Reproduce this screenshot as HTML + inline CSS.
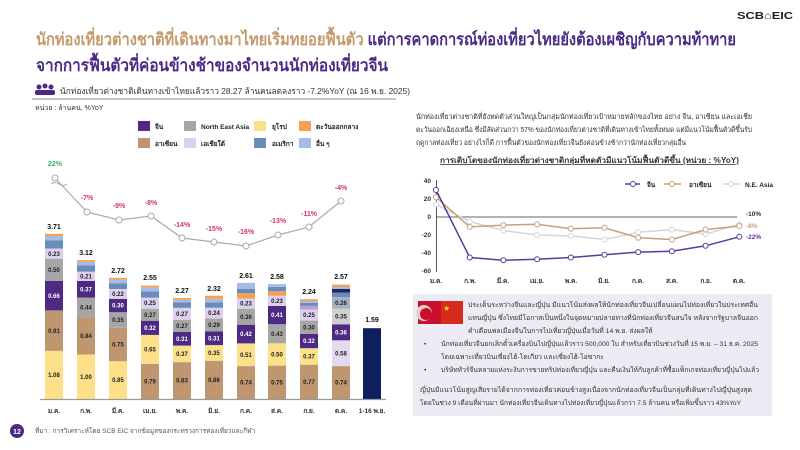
<!DOCTYPE html>
<html><head><meta charset="utf-8"><style>
html,body{margin:0;padding:0;background:#fff;width:800px;height:450px;overflow:hidden}
svg{display:block;font-family:"Liberation Sans","DejaVu Sans",sans-serif}
.v{font-size:6px;font-weight:bold;text-anchor:middle;fill:#222}
.w{font-size:6px;font-weight:bold;text-anchor:middle;fill:#fff}
.t{font-size:7px;font-weight:bold;text-anchor:middle;fill:#111}
.p{font-size:7px;font-weight:bold;text-anchor:middle;fill:#d6336c}
.m{font-size:6.5px;font-weight:bold;text-anchor:middle;fill:#333}
</style></head><body>
<svg width="800" height="450" viewBox="0 0 800 450">
<!-- header -->
<text x="36" y="45" font-size="17" font-weight="bold" textLength="700" lengthAdjust="spacingAndGlyphs"><tspan fill="#c4996b">นักท่องเที่ยวต่างชาติที่เดินทางมาไทยเริ่มทยอยฟื้นตัว </tspan><tspan fill="#4b2a85">แต่การคาดการณ์ท่องเที่ยวไทยยังต้องเผชิญกับความท้าทาย</tspan></text>
<text x="36" y="71" font-size="17" font-weight="bold" fill="#4b2a85" textLength="352" lengthAdjust="spacingAndGlyphs">จากการฟื้นตัวที่ค่อนข้างช้าของจำนวนนักท่องเที่ยวจีน</text>
<text x="737" y="19" font-size="10.5" font-weight="bold" fill="#222" textLength="56" lengthAdjust="spacingAndGlyphs">SCB⌂EIC</text>
<g fill="#4b2a85"><circle cx="39" cy="87" r="2.5"/><circle cx="45" cy="86" r="2.5"/><circle cx="51" cy="87" r="2.5"/><rect x="35" y="90" width="20" height="5" rx="2"/></g>
<text x="60" y="94" font-size="8.5" fill="#333" textLength="350" lengthAdjust="spacingAndGlyphs">นักท่องเที่ยวต่างชาติเดินทางเข้าไทยแล้วราว 28.27 ล้านคนลดลงราว -7.2%YoY (ณ 16 พ.ย. 2025)</text>
<line x1="32" y1="99" x2="396" y2="99" stroke="#888" stroke-width="1"/>
<text x="35" y="110" font-size="7" fill="#333">หน่วย : ล้านคน, %YoY</text>
<!-- legend -->
<g font-size="6.5" font-weight="bold" fill="#222">
<rect x="138" y="121" width="12" height="10" fill="#4e2a84"/><text x="155" y="129">จีน</text>
<rect x="184" y="121" width="12" height="10" fill="#a6a6a6"/><text x="201" y="129">North East Asia</text>
<rect x="254" y="121" width="12" height="10" fill="#fde08a"/><text x="272" y="129">ยุโรป</text>
<rect x="299" y="121" width="12" height="10" fill="#f8a050"/><text x="316" y="129">ตะวันออกกลาง</text>
<rect x="138" y="138" width="12" height="10" fill="#c09670"/><text x="155" y="146">อาเซียน</text>
<rect x="184" y="138" width="12" height="10" fill="#dcd0ee"/><text x="201" y="146">เอเชียใต้</text>
<rect x="254" y="138" width="12" height="10" fill="#6a8bbd"/><text x="272" y="146">อเมริกา</text>
<rect x="299" y="138" width="12" height="10" fill="#a4bde6"/><text x="316" y="146">อื่น ๆ</text>
</g>
<!-- bars -->
<g>
<rect x="45" y="350.9" width="18" height="48.1" fill="#fde08a"/><rect x="45" y="310.4" width="18" height="40.5" fill="#c09670"/><rect x="45" y="281" width="18" height="29.4" fill="#4e2a84"/><rect x="45" y="258.7" width="18" height="22.3" fill="#a6a6a6"/><rect x="45" y="248.5" width="18" height="10.2" fill="#dcd0ee"/><rect x="45" y="240.5" width="18" height="8" fill="#6a8bbd"/><rect x="45" y="236" width="18" height="4.5" fill="#a4bde6"/><rect x="45" y="233.8" width="18" height="2.2" fill="#f8a050"/>
<text class="v" x="54" y="377">1.08</text><text class="v" x="54" y="333">0.91</text><text class="w" x="54" y="298">0.66</text><text class="v" x="54" y="272">0.50</text><text class="v" x="54" y="256">0.23</text><text class="t" x="54" y="229">3.71</text>
<rect x="77" y="354.5" width="18" height="44.5" fill="#fde08a"/><rect x="77" y="317.1" width="18" height="37.4" fill="#c09670"/><rect x="77" y="297.5" width="18" height="19.6" fill="#a6a6a6"/><rect x="77" y="281" width="18" height="16.5" fill="#4e2a84"/><rect x="77" y="271.7" width="18" height="9.3" fill="#dcd0ee"/><rect x="77" y="265.5" width="18" height="6.2" fill="#6a8bbd"/><rect x="77" y="261.9" width="18" height="3.6" fill="#a4bde6"/><rect x="77" y="260.1" width="18" height="1.8" fill="#f8a050"/>
<text class="v" x="86" y="379">1.00</text><text class="v" x="86" y="338">0.84</text><text class="v" x="86" y="309.5">0.44</text><text class="w" x="86" y="291.5">0.37</text><text class="v" x="86" y="278.5">0.21</text><text class="t" x="86" y="255">3.12</text>
<rect x="109" y="361.2" width="18" height="37.8" fill="#fde08a"/><rect x="109" y="327.8" width="18" height="33.4" fill="#c09670"/><rect x="109" y="312.2" width="18" height="15.6" fill="#a6a6a6"/><rect x="109" y="298.8" width="18" height="13.4" fill="#4e2a84"/><rect x="109" y="289" width="18" height="9.8" fill="#dcd0ee"/><rect x="109" y="283.2" width="18" height="5.8" fill="#6a8bbd"/><rect x="109" y="279.6" width="18" height="3.6" fill="#a4bde6"/><rect x="109" y="277.8" width="18" height="1.8" fill="#f8a050"/>
<text class="v" x="118" y="382">0.85</text><text class="v" x="118" y="346.5">0.75</text><text class="v" x="118" y="322">0.35</text><text class="w" x="118" y="307.5">0.30</text><text class="v" x="118" y="296">0.22</text><text class="t" x="118" y="273">2.72</text>
<rect x="141" y="363.8" width="18" height="35.2" fill="#c09670"/><rect x="141" y="334.9" width="18" height="28.9" fill="#fde08a"/><rect x="141" y="320.7" width="18" height="14.2" fill="#4e2a84"/><rect x="141" y="308.7" width="18" height="12" fill="#a6a6a6"/><rect x="141" y="297.6" width="18" height="11.1" fill="#dcd0ee"/><rect x="141" y="291.4" width="18" height="6.2" fill="#6a8bbd"/><rect x="141" y="287.4" width="18" height="4" fill="#a4bde6"/><rect x="141" y="285.6" width="18" height="1.8" fill="#f8a050"/>
<text class="v" x="150" y="383.5">0.79</text><text class="v" x="150" y="351.5">0.65</text><text class="w" x="150" y="330">0.32</text><text class="v" x="150" y="317">0.27</text><text class="v" x="150" y="305">0.25</text><text class="t" x="150" y="280">2.55</text>
<rect x="173" y="362.1" width="18" height="36.9" fill="#c09670"/><rect x="173" y="345.6" width="18" height="16.5" fill="#fde08a"/><rect x="173" y="331.8" width="18" height="13.8" fill="#4e2a84"/><rect x="173" y="319.8" width="18" height="12" fill="#a6a6a6"/><rect x="173" y="307.8" width="18" height="12" fill="#dcd0ee"/><rect x="173" y="302.5" width="18" height="5.3" fill="#6a8bbd"/><rect x="173" y="299.8" width="18" height="2.7" fill="#a4bde6"/><rect x="173" y="298" width="18" height="1.8" fill="#f8a050"/>
<text class="v" x="182" y="382.5">0.83</text><text class="v" x="182" y="356">0.37</text><text class="w" x="182" y="341">0.31</text><text class="v" x="182" y="328">0.27</text><text class="v" x="182" y="316">0.27</text><text class="t" x="182" y="293">2.27</text>
<rect x="205" y="360.7" width="18" height="38.3" fill="#c09670"/><rect x="205" y="345.1" width="18" height="15.6" fill="#fde08a"/><rect x="205" y="331.3" width="18" height="13.8" fill="#4e2a84"/><rect x="205" y="318.4" width="18" height="12.9" fill="#a6a6a6"/><rect x="205" y="307.7" width="18" height="10.7" fill="#dcd0ee"/><rect x="205" y="302.4" width="18" height="5.3" fill="#6a8bbd"/><rect x="205" y="298.8" width="18" height="3.6" fill="#a4bde6"/><rect x="205" y="295.7" width="18" height="3.1" fill="#f8a050"/>
<text class="v" x="214" y="382">0.86</text><text class="v" x="214" y="355">0.35</text><text class="w" x="214" y="340.5">0.31</text><text class="v" x="214" y="327">0.29</text><text class="v" x="214" y="315">0.24</text><text class="t" x="214" y="291">2.32</text>
<rect x="237" y="366.1" width="18" height="32.9" fill="#c09670"/><rect x="237" y="343.4" width="18" height="22.7" fill="#fde08a"/><rect x="237" y="324.7" width="18" height="18.7" fill="#4e2a84"/><rect x="237" y="308.7" width="18" height="16" fill="#a6a6a6"/><rect x="237" y="298.5" width="18" height="10.2" fill="#dcd0ee"/><rect x="237" y="293.2" width="18" height="5.3" fill="#f8a050"/><rect x="237" y="288.7" width="18" height="4.5" fill="#6a8bbd"/><rect x="237" y="282.9" width="18" height="5.8" fill="#a4bde6"/>
<text class="v" x="246" y="384.5">0.74</text><text class="v" x="246" y="357">0.51</text><text class="w" x="246" y="336">0.42</text><text class="v" x="246" y="319">0.36</text><text class="v" x="246" y="305.5">0.23</text><text class="t" x="246" y="278">2.61</text>
<rect x="268" y="365.6" width="18" height="33.4" fill="#c09670"/><rect x="268" y="343.3" width="18" height="22.3" fill="#fde08a"/><rect x="268" y="324.2" width="18" height="19.1" fill="#a6a6a6"/><rect x="268" y="306" width="18" height="18.2" fill="#4e2a84"/><rect x="268" y="295.8" width="18" height="10.2" fill="#dcd0ee"/><rect x="268" y="291.3" width="18" height="4.5" fill="#f8a050"/><rect x="268" y="286.8" width="18" height="4.5" fill="#6a8bbd"/><rect x="268" y="284.1" width="18" height="2.7" fill="#a4bde6"/>
<text class="v" x="277" y="384.5">0.75</text><text class="v" x="277" y="356.5">0.50</text><text class="v" x="277" y="336">0.43</text><text class="w" x="277" y="317">0.41</text><text class="v" x="277" y="303">0.23</text><text class="t" x="277" y="279">2.58</text>
<rect x="300" y="364.7" width="18" height="34.3" fill="#c09670"/><rect x="300" y="348.2" width="18" height="16.5" fill="#fde08a"/><rect x="300" y="334" width="18" height="14.2" fill="#4e2a84"/><rect x="300" y="320.6" width="18" height="13.4" fill="#a6a6a6"/><rect x="300" y="309.5" width="18" height="11.1" fill="#dcd0ee"/><rect x="300" y="305.9" width="18" height="3.6" fill="#b9a0da"/><rect x="300" y="302.8" width="18" height="3.1" fill="#6a8bbd"/><rect x="300" y="301" width="18" height="1.8" fill="#a4bde6"/><rect x="300" y="299.2" width="18" height="1.8" fill="#f8a050"/>
<text class="v" x="309" y="384">0.77</text><text class="v" x="309" y="358.5">0.37</text><text class="w" x="309" y="343">0.32</text><text class="v" x="309" y="329.5">0.30</text><text class="v" x="309" y="317">0.25</text><text class="t" x="309" y="294">2.24</text>
<rect x="332" y="366.1" width="18" height="32.9" fill="#c09670"/><rect x="332" y="340.3" width="18" height="25.8" fill="#e3dcf0"/><rect x="332" y="324.3" width="18" height="16" fill="#4e2a84"/><rect x="332" y="308.7" width="18" height="15.6" fill="#d0d0d0"/><rect x="332" y="297.1" width="18" height="11.6" fill="#a8aec6"/><rect x="332" y="292.6" width="18" height="4.5" fill="#6a8bbd"/><rect x="332" y="289" width="18" height="3.6" fill="#1f2a5c"/><rect x="332" y="287" width="18" height="2" fill="#a4bde6"/><rect x="332" y="284.6" width="18" height="2.4" fill="#f8a050"/>
<text class="v" x="341" y="384.5">0.74</text><text class="v" x="341" y="355.5">0.58</text><text class="w" x="341" y="334.5">0.36</text><text class="v" x="341" y="318.5">0.35</text><text class="v" x="341" y="305">0.26</text><text class="t" x="341" y="279">2.57</text>
<rect x="363" y="328.2" width="18" height="70.8" fill="#0d1f5c"/>
<text class="t" x="372" y="322">1.59</text>
</g>
<line x1="40" y1="399.5" x2="386" y2="399.5" stroke="#999" stroke-width="1.2"/>
<g><text class="m" x="54" y="413">ม.ค.</text><text class="m" x="86" y="413">ก.พ.</text><text class="m" x="118" y="413">มี.ค.</text><text class="m" x="150" y="413">เม.ย.</text><text class="m" x="182" y="413">พ.ค.</text><text class="m" x="214" y="413">มิ.ย.</text><text class="m" x="246" y="413">ก.ค.</text><text class="m" x="277" y="413">ส.ค.</text><text class="m" x="309" y="413">ก.ย.</text><text class="m" x="341" y="413">ต.ค.</text><text class="m" x="372" y="413">1-16 พ.ย.</text></g>
<!-- yoy line -->
<polyline points="55,178 87,212 119,220 151,216 182,238 214,242 246,246 278,235 309,227 341,201" fill="none" stroke="#aaa" stroke-width="1.2"/>
<g fill="#fff" stroke="#aaa" stroke-width="1"><circle cx="55" cy="178" r="3"/><circle cx="87" cy="212" r="3"/><circle cx="119" cy="220" r="3"/><circle cx="151" cy="216" r="3"/><circle cx="182" cy="238" r="3"/><circle cx="214" cy="242" r="3"/><circle cx="246" cy="246" r="3"/><circle cx="278" cy="235" r="3"/><circle cx="309" cy="227" r="3"/><circle cx="341" cy="201" r="3"/></g>
<path d="M51 184 q4 -3 8 0 q4 3 8 0" fill="none" stroke="#aaa"/>
<text x="55" y="166" font-size="7" font-weight="bold" text-anchor="middle" fill="#2fb55a">22%</text>
<text class="p" x="87" y="200">-7%</text><text class="p" x="119" y="208">-9%</text><text class="p" x="151" y="205">-8%</text><text class="p" x="182" y="227">-14%</text><text class="p" x="214" y="231">-15%</text><text class="p" x="246" y="234">-16%</text><text class="p" x="278" y="223">-13%</text><text class="p" x="309" y="216">-11%</text><text class="p" x="341" y="190">-4%</text>
<!-- right paragraph -->
<g font-size="7.2" fill="#333">
<text x="416" y="119" textLength="336" lengthAdjust="spacingAndGlyphs">นักท่องเที่ยวต่างชาติที่ยังหดตัวส่วนใหญ่เป็นกลุ่มนักท่องเที่ยวเป้าหมายหลักของไทย อย่าง จีน, อาเซียน และเอเชีย</text>
<text x="416" y="132" textLength="336" lengthAdjust="spacingAndGlyphs">ตะวันออกเฉียงเหนือ ซึ่งมีสัดส่วนกว่า 57% ของนักท่องเที่ยวต่างชาติที่เดินทางเข้าไทยทั้งหมด แต่มีแนวโน้มฟื้นตัวดีขึ้นรับ</text>
<text x="416" y="145" textLength="270" lengthAdjust="spacingAndGlyphs">ฤดูกาลท่องเที่ยว อย่างไรก็ดี การฟื้นตัวของนักท่องเที่ยวจีนยังค่อนข้างช้ากว่านักท่องเที่ยวกลุ่มอื่น</text>
</g>
<text x="440" y="163" font-size="8" font-weight="bold" fill="#333" text-decoration="underline" textLength="299" lengthAdjust="spacingAndGlyphs">การเติบโตของนักท่องเที่ยวต่างชาติกลุ่มที่หดตัวมีแนวโน้มฟื้นตัวดีขึ้น (หน่วย : %YoY)</text>
<!-- right chart -->
<g font-size="6.5" font-weight="bold" fill="#333" text-anchor="end">
<text x="431" y="183">40</text><text x="431" y="201">20</text><text x="431" y="219">0</text><text x="431" y="237">-20</text><text x="431" y="255">-40</text><text x="431" y="273">-60</text></g>
<line x1="436.5" y1="180" x2="436.5" y2="272" stroke="#555" stroke-width="1"/>
<line x1="436" y1="217" x2="737" y2="217" stroke="#333" stroke-width="0.8"/>
<polyline points="436,204.4 469.7,221.5 503.4,230.5 537.1,235 570.8,235.9 604.5,239.5 638.2,232.3 671.9,229.6 705.6,234.1 739.3,224.2" fill="none" stroke="#d6d6d6" stroke-width="1.5"/>
<g fill="#fff" stroke="#d6d6d6"><circle cx="436" cy="204.4" r="2.5"/><circle cx="469.7" cy="221.5" r="2.5"/><circle cx="503.4" cy="230.5" r="2.5"/><circle cx="537.1" cy="235" r="2.5"/><circle cx="570.8" cy="235.9" r="2.5"/><circle cx="604.5" cy="239.5" r="2.5"/><circle cx="638.2" cy="232.3" r="2.5"/><circle cx="671.9" cy="229.6" r="2.5"/><circle cx="705.6" cy="234.1" r="2.5"/><circle cx="739.3" cy="224.2" r="2.5"/></g>
<polyline points="436,197.2 469.7,226.9 503.4,225.1 537.1,224.2 570.8,228.7 604.5,227.8 638.2,237.7 671.9,239.5 705.6,229.6 739.3,226" fill="none" stroke="#c9a07a" stroke-width="1.5"/>
<g fill="#fff" stroke="#c9a07a"><circle cx="436" cy="197.2" r="2.5"/><circle cx="469.7" cy="226.9" r="2.5"/><circle cx="503.4" cy="225.1" r="2.5"/><circle cx="537.1" cy="224.2" r="2.5"/><circle cx="570.8" cy="228.7" r="2.5"/><circle cx="604.5" cy="227.8" r="2.5"/><circle cx="638.2" cy="237.7" r="2.5"/><circle cx="671.9" cy="239.5" r="2.5"/><circle cx="705.6" cy="229.6" r="2.5"/><circle cx="739.3" cy="226" r="2.5"/></g>
<polyline points="436,190 469.7,257.5 503.4,260.2 537.1,259.3 570.8,257.5 604.5,254.8 638.2,252.1 671.9,251.2 705.6,245.8 739.3,236.8" fill="none" stroke="#5b3a9b" stroke-width="1.5"/>
<g fill="#fff" stroke="#5b3a9b"><circle cx="436" cy="190" r="2.5"/><circle cx="469.7" cy="257.5" r="2.5"/><circle cx="503.4" cy="260.2" r="2.5"/><circle cx="537.1" cy="259.3" r="2.5"/><circle cx="570.8" cy="257.5" r="2.5"/><circle cx="604.5" cy="254.8" r="2.5"/><circle cx="638.2" cy="252.1" r="2.5"/><circle cx="671.9" cy="251.2" r="2.5"/><circle cx="705.6" cy="245.8" r="2.5"/><circle cx="739.3" cy="236.8" r="2.5"/></g>
<g font-size="6.5" font-weight="bold">
<text x="746" y="216" fill="#333">-10%</text><text x="746" y="228" fill="#c9a07a">-8%</text><text x="746" y="239" fill="#5b3a9b">-22%</text></g>
<line x1="625" y1="184" x2="640" y2="184" stroke="#5b3a9b" stroke-width="1.5"/><circle cx="633" cy="184" r="2.5" fill="#fff" stroke="#5b3a9b"/><text x="647" y="187" font-size="6.5" font-weight="bold" fill="#222">จีน</text>
<line x1="664" y1="184" x2="681" y2="184" stroke="#c9a07a" stroke-width="1.5"/><circle cx="672" cy="184" r="2.5" fill="#fff" stroke="#c9a07a"/><text x="689" y="187" font-size="6.5" font-weight="bold" fill="#222">อาเซียน</text>
<line x1="723" y1="184" x2="740" y2="184" stroke="#d6d6d6" stroke-width="1.5"/><circle cx="731" cy="184" r="2.5" fill="#fff" stroke="#d6d6d6"/><text x="745" y="187" font-size="6.5" font-weight="bold" fill="#222">N.E. Asia</text>
<g font-size="6.5" font-weight="bold" fill="#333" text-anchor="middle"><text x="436" y="283">ม.ค.</text><text x="470" y="283">ก.พ.</text><text x="503" y="283">มี.ค.</text><text x="537" y="283">เม.ย.</text><text x="571" y="283">พ.ค.</text><text x="604" y="283">มิ.ย.</text><text x="638" y="283">ก.ค.</text><text x="672" y="283">ส.ค.</text><text x="706" y="283">ก.ย.</text><text x="739" y="283">ต.ค.</text></g>
<!-- grey box -->
<rect x="413" y="294" width="359" height="122" fill="#ecebf3"/>
<rect x="418" y="301" width="23" height="23" fill="#c8102e"/><circle cx="424" cy="313" r="8" fill="#e8d0d0"/><circle cx="426" cy="314" r="6" fill="#c8102e"/><rect x="441" y="301" width="22" height="23" fill="#d62a1e"/><text x="443" y="311" font-size="8" fill="#ffd700">★</text>
<g font-size="6.8" fill="#333">
<text x="468" y="307" textLength="290" lengthAdjust="spacingAndGlyphs">ประเด็นระหว่างจีนและญี่ปุ่น มีแนวโน้มส่งผลให้นักท่องเที่ยวจีนเปลี่ยนแผนไปท่องเที่ยวในประเทศอื่น</text>
<text x="468" y="320" textLength="290" lengthAdjust="spacingAndGlyphs">แทนญี่ปุ่น ซึ่งไทยมีโอกาสเป็นหนึ่งในจุดหมายปลายทางที่นักท่องเที่ยวจีนสนใจ หลังจากรัฐบาลจีนออก</text>
<text x="468" y="333">คำเตือนพลเมืองจีนในการไปเที่ยวญี่ปุ่นเมื่อวันที่ 14 พ.ย. ส่งผลให้</text>
<text x="424" y="346">•</text><text x="441" y="346" textLength="317" lengthAdjust="spacingAndGlyphs">นักท่องเที่ยวจีนยกเลิกตั๋วเครื่องบินไปญี่ปุ่นแล้วราว 500,000 ใบ สำหรับเที่ยวบินช่วงวันที่ 15 พ.ย. – 31 ธ.ค. 2025</text>
<text x="441" y="359">โดยเฉพาะเที่ยวบินเซี่ยงไฮ้-โตเกียว และเซี่ยงไฮ้-โอซากะ</text>
<text x="424" y="372">•</text><text x="441" y="372" textLength="318" lengthAdjust="spacingAndGlyphs">บริษัททัวร์จีนหลายแห่งระงับการขายทริปท่องเที่ยวญี่ปุ่น และคืนเงินให้กับลูกค้าที่ซื้อแพ็กเกจท่องเที่ยวญี่ปุ่นไปแล้ว</text>
<text x="420" y="392" textLength="332" lengthAdjust="spacingAndGlyphs">ญี่ปุ่นมีแนวโน้มสูญเสียรายได้จากการท่องเที่ยวค่อนข้างสูงเนื่องจากนักท่องเที่ยวจีนเป็นกลุ่มที่เดินทางไปญี่ปุ่นสูงสุด</text>
<text x="420" y="405" textLength="321" lengthAdjust="spacingAndGlyphs">โดยในช่วง 9 เดือนที่ผ่านมา นักท่องเที่ยวจีนเดินทางไปท่องเที่ยวญี่ปุ่นแล้วกว่า 7.5 ล้านคน หรือเพิ่มขึ้นราว 43%YoY</text>
</g>
<!-- footer -->
<circle cx="17" cy="431" r="7" fill="#4b2a85"/><text x="17" y="434" font-size="7" font-weight="bold" fill="#fff" text-anchor="middle">12</text>
<text x="35" y="433" font-size="6.5" fill="#555">ที่มา : การวิเคราะห์โดย SCB EIC จากข้อมูลของกระทรวงการท่องเที่ยวและกีฬา</text>
</svg>
</body></html>
